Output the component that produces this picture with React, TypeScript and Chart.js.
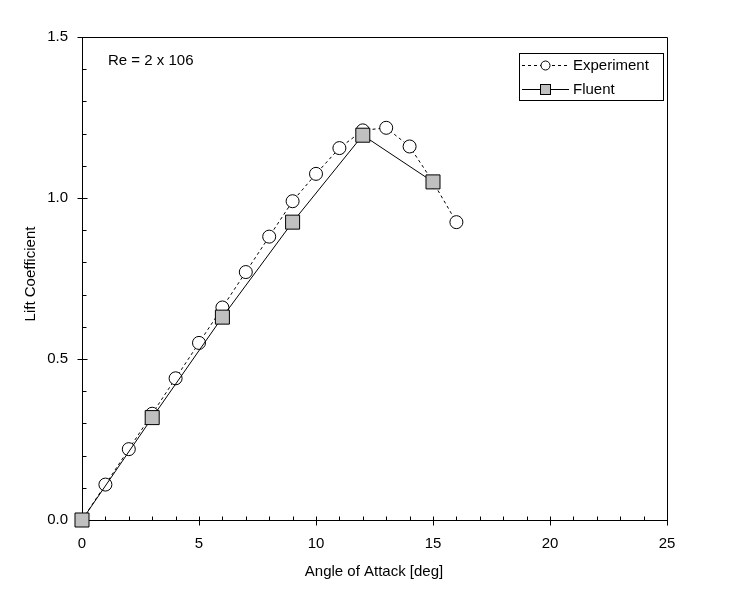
import React, { useEffect, useRef } from "react";
import { Chart, registerables } from "chart.js";

Chart.register(...registerables);

const expAngles = [0, 1, 2, 3, 4, 5, 6, 7, 8, 9, 10, 11, 12, 13, 14, 15, 16];
const expLift = [0, 0.11, 0.22, 0.33, 0.44, 0.55, 0.66, 0.77, 0.88, 0.99, 1.075, 1.155, 1.21, 1.218, 1.16, 1.05, 0.925];
const fluentAngles = [0, 3, 6, 9, 12, 15];
const fluentLift = [0, 0.318, 0.63, 0.925, 1.195, 1.05];

const xTickValues = [0, 5, 10, 15, 20, 25];
const yTickValues = [0, 0.5, 1.0, 1.5];

const xTitle = "Angle of Attack [deg]";
const yTitle = "Lift Coefficient";
const noteText = "Re = 2 x 106";
const legendLabels = ["Experiment", "Fluent"];

const FONT = "'Liberation Sans', Arial, sans-serif";

const framePlugin = {
  id: "frameTicks",
  beforeDatasetsDraw(chart: any) {
    const { ctx, chartArea } = chart;
    const xs = chart.scales.x;
    const ys = chart.scales.y;
    ctx.save();
    ctx.strokeStyle = "#000";
    ctx.lineWidth = 1;
    ctx.beginPath();
    ctx.rect(Math.round(chartArea.left) + 0.5, Math.round(chartArea.top) + 0.5,
      Math.round(chartArea.right - chartArea.left), Math.round(chartArea.bottom - chartArea.top));
    ctx.stroke();
    const b = Math.round(chartArea.bottom) + 0.5;
    const l = Math.round(chartArea.left) + 0.5;
    ctx.beginPath();
    for (let v = 0; v <= 25; v++) {
      const px = Math.round(xs.getPixelForValue(v)) + 0.5;
      if (v % 5 === 0) {
        ctx.moveTo(px, b - 4);
        ctx.lineTo(px, b + 5);
      } else {
        ctx.moveTo(px, b - 4);
        ctx.lineTo(px, b);
      }
    }
    for (let i = 0; i <= 15; i++) {
      const v = i / 10;
      const py = Math.round(ys.getPixelForValue(v)) + 0.5;
      if (i % 5 === 0) {
        ctx.moveTo(l - 5, py);
        ctx.lineTo(l + 5, py);
      } else {
        ctx.moveTo(l, py);
        ctx.lineTo(l + 4, py);
      }
    }
    ctx.stroke();
    ctx.restore();
  },
  afterDraw(chart: any) {
    const { ctx } = chart;
    const ds0 = chart.data.datasets[0];
    const ds1 = chart.data.datasets[1];
    ctx.save();
    ctx.fillStyle = "#000";
    ctx.font = `15px ${FONT}`;
    ctx.textAlign = "center";
    ctx.textBaseline = "middle";
    ctx.fillText(xTitle, 374, 572);
    ctx.save();
    ctx.translate(31, 274);
    ctx.rotate(-Math.PI / 2);
    ctx.fillText(yTitle, 0, 0);
    ctx.restore();
    ctx.textAlign = "left";
    ctx.fillText(noteText, 108, 61);
    ctx.strokeStyle = "#000";
    ctx.lineWidth = 1;
    ctx.strokeRect(519.5, 53.5, 144, 47);
    const rows = [65.5, 89.5];
    ctx.beginPath();
    ctx.setLineDash(ds0.borderDash);
    ctx.moveTo(522, rows[0]);
    ctx.lineTo(569, rows[0]);
    ctx.stroke();
    ctx.setLineDash([]);
    ctx.beginPath();
    ctx.arc(545.5, rows[0], 4.5, 0, Math.PI * 2);
    ctx.fillStyle = ds0.pointBackgroundColor;
    ctx.fill();
    ctx.stroke();
    ctx.beginPath();
    ctx.moveTo(522, rows[1]);
    ctx.lineTo(569, rows[1]);
    ctx.stroke();
    ctx.fillStyle = ds1.pointBackgroundColor;
    ctx.fillRect(540.5, rows[1] - 5, 10, 10);
    ctx.strokeRect(540.5, rows[1] - 5, 10, 10);
    ctx.fillStyle = "#000";
    ctx.textBaseline = "middle";
    ctx.fillText(legendLabels[0], 573, rows[0]);
    ctx.fillText(legendLabels[1], 573, rows[1]);
    ctx.restore();
  },
};

export default function App() {
  const ref = useRef<HTMLCanvasElement | null>(null);
  useEffect(() => {
    if (!ref.current) return;
    const chart = new Chart(ref.current, {
      type: "line",
      data: {
        datasets: [
          {
            label: legendLabels[0],
            data: expAngles.map((a, i) => ({ x: a, y: expLift[i] })),
            borderColor: "#000",
            borderWidth: 1,
            borderDash: [3, 3],
            pointStyle: "circle",
            pointRadius: 6.5,
            pointBackgroundColor: "#ffffff",
            pointBorderColor: "#000",
            pointBorderWidth: 1,
            tension: 0,
            fill: false,
            clip: false,
            order: 1,
          },
          {
            label: legendLabels[1],
            data: fluentAngles.map((a, i) => ({ x: a, y: fluentLift[i] })),
            borderColor: "#000",
            borderWidth: 1,
            pointStyle: "rect",
            pointRadius: 9.9,
            pointBackgroundColor: "#c0c0c0",
            pointBorderColor: "#000",
            pointBorderWidth: 1,
            tension: 0,
            fill: false,
            clip: false,
            order: 0,
          },
        ],
      },
      options: {
        responsive: false,
        animation: false,
        devicePixelRatio: 1,
        layout: { padding: { left: 0, right: 70, top: 37, bottom: 0 } },
        plugins: { legend: { display: false }, tooltip: { enabled: false } },
        scales: {
          x: {
            type: "linear",
            min: 0,
            max: 25,
            afterFit: (s: any) => { s.height = 80; },
            afterBuildTicks: (s: any) => { s.ticks = xTickValues.map((v) => ({ value: v })); },
            ticks: {
              color: "#000",
              font: { family: FONT, size: 15 },
              padding: 7,
              maxRotation: 0,
              callback: (v: any) => String(v),
            },
            grid: { display: false },
            border: { display: false },
          },
          y: {
            type: "linear",
            min: 0,
            max: 1.5,
            afterFit: (s: any) => { s.width = 82; },
            afterBuildTicks: (s: any) => { s.ticks = yTickValues.map((v) => ({ value: v })); },
            ticks: {
              color: "#000",
              font: { family: FONT, size: 15 },
              padding: 6,
              callback: (v: any) => Number(v).toFixed(1),
            },
            grid: { display: false },
            border: { display: false },
          },
        },
      },
      plugins: [framePlugin],
    });
    return () => chart.destroy();
  }, []);
  return (
    <div style={{ position: "absolute", left: 0, top: 0, width: 737, height: 600, background: "#fff" }}>
      <canvas ref={ref} width={737} height={600} />
    </div>
  );
}
